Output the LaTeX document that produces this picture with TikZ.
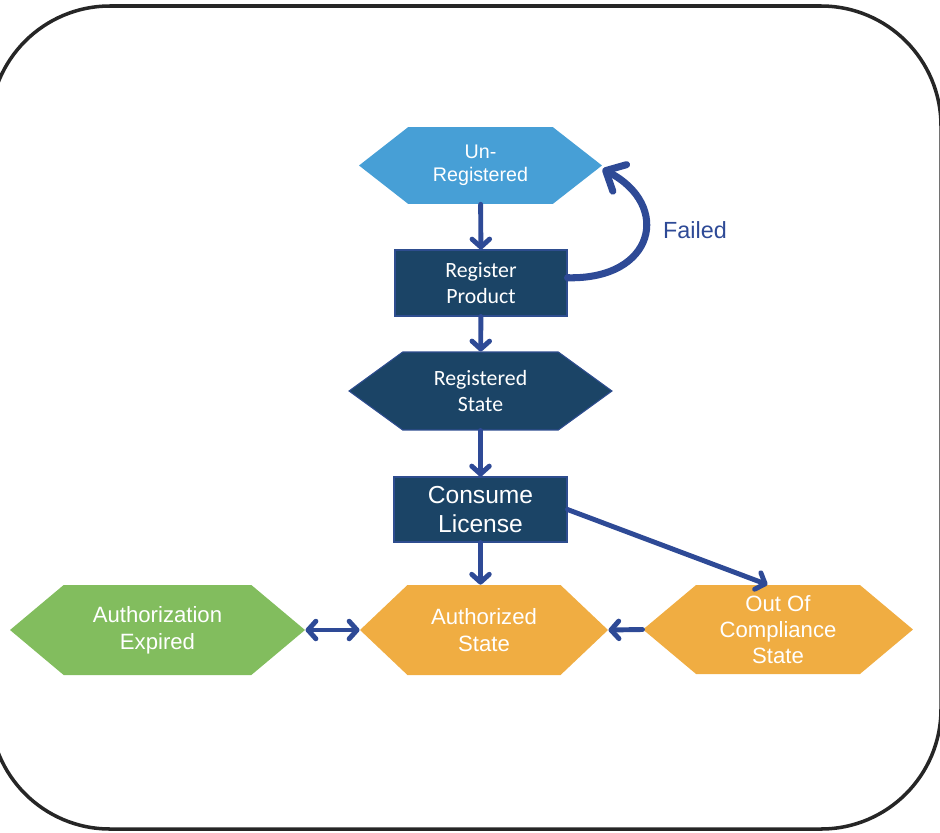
\documentclass[tikz,border=0pt]{standalone}
\usepackage{fontspec}
\setmainfont{Liberation Sans}
\newfontfamily\calib{Carlito}
\usetikzlibrary{shapes.symbols,arrows.meta}

\definecolor{skyblue}{HTML}{479FD6}
\definecolor{navy}{HTML}{1B4466}
\definecolor{navyedge}{HTML}{2E4D8F}
\definecolor{flowblue}{HTML}{2E4A96}
\definecolor{leafgreen}{HTML}{82BD5E}
\definecolor{amber}{HTML}{F0AD42}

\tikzset{
  hexa/.style={signal, signal to=east and west, inner sep=0pt,
    text=white, align=center},
  procbox/.style={rectangle, fill=navy, draw=navyedge, line width=0.6pt,
    inner sep=0pt, text=white, align=center},
  flow/.style={flowblue, line width=2.8pt, line cap=round,
    -{Straight Barb[length=4.5pt,width=10pt,round]}},
}

\begin{document}
\begin{tikzpicture}[x=0.02cm,y=-0.02cm]
  % Frame
  \useasboundingbox (0,0) rectangle (940,832);
  \clip (0,0) rectangle (940,832);
  \draw[line width=2pt,black!85,rounded corners=2.4cm] (-10,6) rectangle (941,829);

  % States and steps
  \node[hexa, fill=skyblue, minimum width=4.86cm, minimum height=1.54cm,
    signal pointer angle=76, font=\fontsize{11.2}{13}\selectfont]
    (unreg) at (480.5,165.5) {Un-\\Registered};
  \node[procbox, minimum width=3.44cm, minimum height=1.32cm,
    font=\calib\fontsize{12.4}{15}\selectfont]
    (regprod) at (481,283) {Register\\Product};
  \node[hexa, fill=navy, draw=navyedge, line width=0.6pt, minimum width=5.26cm,
    minimum height=1.56cm, signal pointer angle=72,
    font=\calib\fontsize{12.4}{15}\selectfont]
    (regstate) at (480.5,391) {Registered\\State};
  \node[procbox, minimum width=3.46cm, minimum height=1.3cm,
    font=\fontsize{14}{17}\selectfont]
    (consume) at (480.5,509.5) {Consume\\License};
  \node[hexa, fill=leafgreen, minimum width=5.9cm, minimum height=1.8cm,
    signal pointer angle=80, font=\fontsize{12.6}{15.3}\selectfont]
    (authexp) at (157.5,630) {Authorization\\Expired};
  \node[hexa, fill=amber, minimum width=4.96cm, minimum height=1.8cm,
    signal pointer angle=87, font=\fontsize{12.6}{15.8}\selectfont]
    (authstate) at (484,630) {Authorized\\State};
  \node[hexa, fill=amber, minimum width=5.4cm, minimum height=1.78cm,
    signal pointer angle=80, font=\fontsize{12.6}{15}\selectfont]
    (ooc) at (778,629.5) {Out Of\\Compliance\\State};

  % Transitions
  \draw[flow] (unreg) -- (regprod);
  \draw[flow] (regprod) -- (regstate);
  \draw[flow] (regstate) -- (consume);
  \draw[flow] (consume) -- (consume |- authstate.north);
  \draw[flow] (consume.east) -- ([xshift=-6pt]ooc.north);
  \draw[flow] (ooc.west) -- (authstate.east);
  \draw[flow, {Straight Barb[length=4.5pt,width=10pt,round]}-{Straight Barb[length=4.5pt,width=10pt,round]}]
    (authexp.east) -- (authstate.west);

  % Retry loop
  \draw[flow, line width=4pt, -{Straight Barb[length=9pt,width=17pt,round]}]
    ([yshift=3pt]regprod.east) .. controls (655,280) and (672,205) .. ([yshift=-2pt]unreg.east);
  \node[flowblue, font=\fontsize{13.3}{16}\selectfont] (failed) at (695,230) {Failed};
\end{tikzpicture}
\end{document}
